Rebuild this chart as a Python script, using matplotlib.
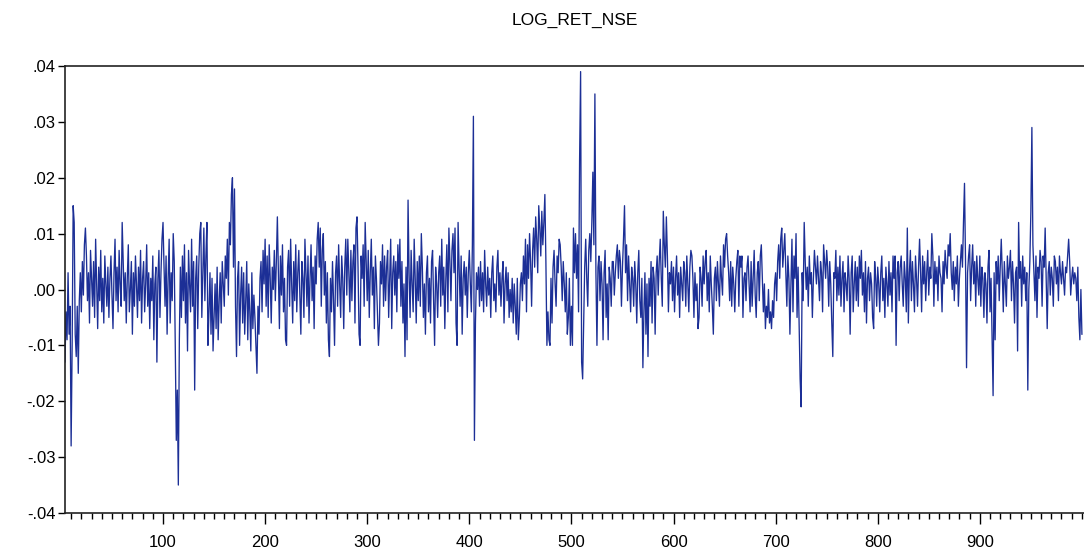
import numpy as np
import matplotlib
matplotlib.use("Agg")
import matplotlib.pyplot as plt
from matplotlib.ticker import MultipleLocator, FuncFormatter

title = "LOG_RET_NSE"

ret_permille = [
    -2, -6, 1, -13, -4, -9, 3, -8, -3, -28,
    -10, 15, 12, -8, -12, -3, -15, -2, 3, -4,
    5, -1, 8, 11, 6, -2, 3, -6, 7, 2,
    -3, 5, -5, 9, 1, -7, 4, -2, 7, -4,
    2, -6, 6, 1, -3, 4, -5, 2, 6, -1,
    -7, 3, 9, -2, 4, -4, 7, 1, -3, 12,
    5, -2, 3, -6, 2, 8, -4, 0, 5, -8,
    3, -3, 6, 1, -5, 4, -2, 7, -6, 2,
    5, -4, 1, 8, -3, 3, -7, 2, -2, 6,
    -9, 1, 4, -13, 2, 7, -5, 3, 9, 12,
    4, -3, 6, -8, 2, 9, -6, 3, -2, 10,
    5, -10, -27, -18, -35, -9, 4, -5, 6, -2,
    8, -6, 3, -11, 7, 1, -4, 9, -3, 5,
    -18, 2, 6, -7, 4, 10, 12, -5, 3, 11,
    -2, 6, 12, -10, -4, 3, -8, 2, -11, -5,
    1, -7, 4, -9, -2, 3, -6, 5, 1, -3,
    6, 2, 9, -1, 12, 8, 17, 20, 4, 18,
    -3, -12, 2, 5, -10, -1, 4, -6, 3, -8,
    -2, 5, -9, 1, -4, -11, 3, -7, -1, -5,
    -10, -15, -3, -8, 2, 5, -4, 7, 1, 9,
    -3, 6, -5, 8, 2, -6, 4, 0, 7, -2,
    5, 13, 3, -7, 6, -1, 8, -4, 2, -9,
    -10, 4, 7, -3, 9, 1, -6, 5, -2, 8,
    -4, 3, 7, -1, -8, 5, 2, -5, 9, 3,
    -3, 6, -6, 2, 8, -2, 4, -7, 6, 1,
    9, 12, 4, 11, -3, 7, 10, -1, 5, -6,
    3, -9, -12, 2, -4, 5, -2, -10, 3, 6,
    -3, 8, 1, -5, 6, 2, -7, 4, 9, -1,
    9, 3, -4, 7, -2, 5, 8, -6, 11, 13,
    4, -8, -10, 6, 2, 8, -3, 12, 5, -2,
    7, -5, 3, 9, -1, 4, -7, 6, 2, -4,
    -10, -6, 5, 1, 8, -3, 6, -2, 4, 7,
    -5, 2, 9, -7, 3, 6, -1, 5, -4, 8,
    2, 9, -3, 5, -6, 1, -12, 4, -9, 16,
    3, -5, 7, 1, -4, 9, 2, -6, 5, -2,
    6, -3, 10, 4, -5, 1, -8, 3, 6, -4,
    2, -6, 5, 7, -2, -10, 4, 1, -5, 3,
    6, -3, 9, -1, 4, -7, 2, 8, -4, 11,
    5, -2, 7, 10, 3, 11, -6, -10, 12, 4,
    -3, 6, -8, 2, 5, -1, 4, -5, 3, 7,
    1, -4, 8, 31, -27, -6, 3, 0, 4, -3,
    5, -2, 3, -4, 7, 1, -3, 4, -1, 2,
    -5, 3, 6, -2, 1, -4, 4, 7, -1, 3,
    -3, 2, 5, -6, 1, 4, -2, 3, -5, 0,
    -4, 2, -6, 1, -3, -8, 2, -9, -5, 1,
    3, -2, 6, 1, 9, -4, 8, 2, 10, 5,
    -3, 7, 11, 4, 13, 9, 3, 15, 11, 6,
    14, 8, 12, 17, 5, -10, -4, -9, -10, 2,
    -6, 4, 7, 1, -3, 6, 3, 9, 8, 4,
    -2, 5, 1, -4, 3, -8, -5, 2, -10, -3,
    -10, 11, 3, 10, 2, 8, -4, 23, 39, -13,
    -16, -6, 4, 9, 2, -3, 7, 10, 5, 12,
    21, 8, 35, 3, -10, 4, 6, -2, 5, 1,
    -9, 3, 7, -5, 1, -9, 4, 2, -3, 5,
    5, -1, 3, 6, 8, 2, 7, 5, -3, 4,
    9, 15, 3, 8, -2, 6, 1, -4, 4, 2,
    -3, 5, 1, -6, 3, 7, -2, -5, 2, -14,
    -4, 3, -8, 1, -12, 2, -3, 5, -6, 4,
    2, -8, 3, 6, -1, 5, 9, 2, -3, 14,
    8, 4, 13, 6, -4, 3, 1, 5, -2, 4,
    -4, 2, 6, -1, 3, -5, 4, 1, -2, 5,
    3, -3, 6, 1, -4, 4, 7, 6, 2, -5,
    3, -2, 1, -7, -5, 4, 2, -3, 6, 1,
    5, 7, -2, 3, -4, 6, 1, -3, -8, 2,
    4, -2, 5, 1, -3, 6, 2, -1, 8, 4,
    9, 10, 6, 3, -2, 5, -3, 4, 1, -4,
    2, 5, 7, -3, 6, 4, 6, -5, 2, 3,
    -2, 4, 6, 1, -4, 5, -3, 2, 7, -1,
    -5, 3, 5, -2, 6, 8, 2, -4, 1, -7,
    -3, -5, 0, -6, -4, -7, -2, -5, 1, 3,
    -2, 5, 8, 2, 9, 11, 4, 7, 10, 3,
    -3, 6, 2, -8, 1, 9, -4, 6, 2, 10,
    -5, 4, -6, -16, -21, 3, -2, 12, 5, 0,
    4, -3, 6, 1, 3, -5, 2, 7, 4, 1,
    6, 2, -2, 5, 3, -4, 8, 5, 2, 7,
    4, -3, 5, 1, -6, -12, 3, 2, 7, -2,
    4, -1, 6, -3, 2, 5, -4, 3, 1, -2,
    6, 2, -8, 3, 6, -4, 1, 5, -2, 4,
    -3, 6, 2, 7, -1, 3, -4, 5, -6, 2,
    4, -2, 3, 1, -5, -7, 5, 2, -3, 4,
    1, -4, 3, 6, -2, 2, -5, 4, 1, -3,
    5, -1, 3, -4, 6, 2, 6, -10, 3, 5,
    -2, 4, 6, 1, -3, 5, 2, -4, 11, -6,
    3, 7, -2, 5, 1, -4, 6, 2, -3, 4,
    9, 3, -4, 6, 1, 5, -2, 3, 7, -1,
    4, 2, 10, 6, -3, 5, 1, 4, -2, 6,
    3, 2, -4, 5, 1, 7, 4, 2, 8, 6,
    10, 3, 0, 5, -2, 4, 1, 6, -3, 2,
    5, 8, 4, 12, 19, 5, -14, 3, 6, 8,
    -2, 4, 8, 1, 5, -3, 6, 2, -1, 6,
    -3, 4, 2, -5, 3, 1, -6, 4, 7, -4,
    2, -8, -19, 3, -9, 5, 1, 6, -2, 4,
    9, 3, -4, 5, 1, -3, 6, 2, 4, 7,
    -2, 5, 1, -6, 3, 4, -11, 12, 2, 5,
    -3, 6, 1, 4, -2, 3, -18, 0, 5, 14,
    29, 8, 3, -2, 6, -5, 4, 2, 7, 5,
    -3, 6, 4, 11, 2, -7, 3, 5, -1, 4,
    2, -3, 6, 5, 1, 4, -2, 6, 3, 1,
    5, 2, -1, 4, 3, 6, 9, 5, -1, 2,
    4, 1, 3, 2, -2, 4, -5, -9, 0, -8,
]
log_ret_nse = np.array(ret_permille, dtype=float) / 1000.0
obs = np.arange(1, len(log_ret_nse) + 1)

y_ticks = [-0.04, -0.03, -0.02, -0.01, 0.0, 0.01, 0.02, 0.03, 0.04]
x_major = [100, 200, 300, 400, 500, 600, 700, 800, 900]

plt.rcParams['font.family'] = ['Liberation Sans', 'DejaVu Sans']

fig = plt.figure(figsize=(10.84, 5.52), dpi=100)
ax = fig.add_axes([65 / 1084, 1 - 513 / 552, 1030 / 1084, (513 - 66) / 552])

ax.plot(obs, log_ret_nse, color='#1c2f96', linewidth=0.95)

ax.set_xlim(4, 4 + 1030 / 1.021)
ax.set_ylim(-0.04, 0.04)
ax.set_yticks(y_ticks)

def yfmt(v, pos):
    s = f"{v:.2f}"
    s = s.replace("0.", ".")
    if s == "-.00":
        s = ".00"
    return s

ax.yaxis.set_major_formatter(FuncFormatter(yfmt))
ax.set_xticks(x_major)
ax.xaxis.set_minor_locator(MultipleLocator(10))

ax.tick_params(axis='y', direction='out', length=5, width=1, labelsize=12, pad=2)
ax.tick_params(axis='x', which='major', direction='out', length=8, width=1, labelsize=12, pad=8)
ax.tick_params(axis='x', which='minor', direction='out', length=4, width=1)

for sp in ax.spines.values():
    sp.set_color('#222222')
    sp.set_linewidth(1.2)

fig.text(575 / 1084, 1 - 20 / 552, title, ha='center', va='center', fontsize=12.5)

fig.savefig("out.png", dpi=100)
